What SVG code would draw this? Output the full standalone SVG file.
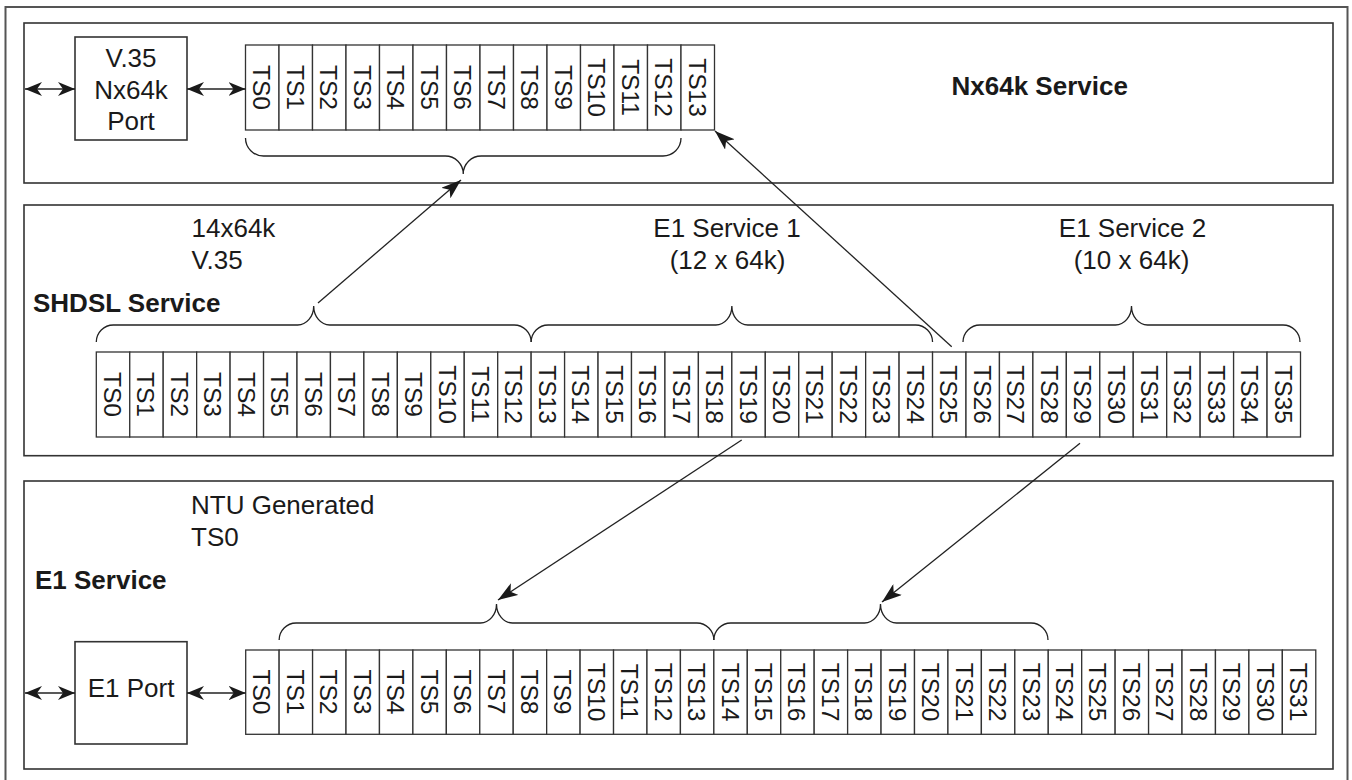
<svg xmlns="http://www.w3.org/2000/svg" width="1352" height="780" viewBox="0 0 1352 780">
<style>
.frame{fill:none;stroke:#555;stroke-width:2}
.panel{fill:none;stroke:#333;stroke-width:1.6}
.box{fill:#fff;stroke:#333;stroke-width:1.6}
.cell{fill:#fff;stroke:#333;stroke-width:1.3}
.ts{font-family:"Liberation Sans",Arial,sans-serif;font-size:24.5px;fill:#1a1a1a;text-anchor:middle}
.lbl{font-family:"Liberation Sans",Arial,sans-serif;font-size:26px;fill:#1a1a1a}
.mid{text-anchor:middle}
.bold{font-weight:bold}
.brace{fill:none;stroke:#222;stroke-width:1.3}
.conn{fill:none;stroke:#222;stroke-width:1.3}
.dbl{fill:none;stroke:#222;stroke-width:1.3;marker-start:url(#ah);marker-end:url(#ah)}
.one{marker-end:url(#ah2)}
</style>
<defs>
<marker id="ah" viewBox="0 0 17 14" refX="17" refY="7" markerWidth="17" markerHeight="14" markerUnits="userSpaceOnUse" orient="auto-start-reverse">
<path d="M0,0 L17,7 L0,14 L5,7 z" fill="#1a1a1a"/>
</marker>
<marker id="ah2" viewBox="0 0 20 14" refX="20" refY="7" markerWidth="20" markerHeight="14" markerUnits="userSpaceOnUse" orient="auto">
<path d="M0,0 L20,7 L0,14 L5,7 z" fill="#1a1a1a"/>
</marker>
</defs>
<rect width="1352" height="780" fill="#fff"/>
<rect class="frame" x="5.5" y="7" width="1342" height="800"/>

<g id="panel-nx64k">
<rect class="panel" x="24" y="23" width="1309" height="160"/>
<text class="lbl bold" x="951.5" y="95">Nx64k Service</text>
</g>
<g id="panel-shdsl">
<rect class="panel" x="24" y="205" width="1309" height="250.7"/>
<text class="lbl bold" x="33" y="312">SHDSL Service</text>
<text class="lbl" x="191.5" y="237">14x64k</text>
<text class="lbl" x="191.5" y="269">V.35</text>
<text class="lbl mid" x="727" y="237">E1 Service 1</text>
<text class="lbl mid" x="727.5" y="269">(12 x 64k)</text>
<text class="lbl mid" x="1132.5" y="237">E1 Service 2</text>
<text class="lbl mid" x="1131.5" y="269">(10 x 64k)</text>
</g>
<g id="panel-e1">
<rect class="panel" x="24" y="481" width="1309" height="288"/>
<text class="lbl bold" x="35" y="589">E1 Service</text>
<text class="lbl" x="191" y="514">NTU Generated</text>
<text class="lbl" x="191" y="546">TS0</text>
</g>

<g id="v35-port">
<rect class="box" x="75" y="37" width="112" height="103"/>
<text class="lbl mid" x="131" y="67">V.35</text>
<text class="lbl mid" x="131" y="99">Nx64k</text>
<text class="lbl mid" x="131" y="129.5">Port</text>
</g>
<g id="e1-port">
<rect class="box" x="75" y="641.7" width="112" height="102.3"/>
<text class="lbl mid" x="131" y="697">E1 Port</text>
</g>

<g id="nx64k-timeslots">
<g id="n-ts0"><rect class="cell" x="245.5" y="45" width="33.5" height="85"/><text class="ts" transform="translate(253.25,87.5) rotate(90)">TS0</text></g>
<g id="n-ts1"><rect class="cell" x="279" y="45" width="33.5" height="85"/><text class="ts" transform="translate(286.75,87.5) rotate(90)">TS1</text></g>
<g id="n-ts2"><rect class="cell" x="312.5" y="45" width="33.5" height="85"/><text class="ts" transform="translate(320.25,87.5) rotate(90)">TS2</text></g>
<g id="n-ts3"><rect class="cell" x="346" y="45" width="33.5" height="85"/><text class="ts" transform="translate(353.75,87.5) rotate(90)">TS3</text></g>
<g id="n-ts4"><rect class="cell" x="379.5" y="45" width="33.5" height="85"/><text class="ts" transform="translate(387.25,87.5) rotate(90)">TS4</text></g>
<g id="n-ts5"><rect class="cell" x="413" y="45" width="33.5" height="85"/><text class="ts" transform="translate(420.75,87.5) rotate(90)">TS5</text></g>
<g id="n-ts6"><rect class="cell" x="446.5" y="45" width="33.5" height="85"/><text class="ts" transform="translate(454.25,87.5) rotate(90)">TS6</text></g>
<g id="n-ts7"><rect class="cell" x="480" y="45" width="33.5" height="85"/><text class="ts" transform="translate(487.75,87.5) rotate(90)">TS7</text></g>
<g id="n-ts8"><rect class="cell" x="513.5" y="45" width="33.5" height="85"/><text class="ts" transform="translate(521.25,87.5) rotate(90)">TS8</text></g>
<g id="n-ts9"><rect class="cell" x="547" y="45" width="33.5" height="85"/><text class="ts" transform="translate(554.75,87.5) rotate(90)">TS9</text></g>
<g id="n-ts10"><rect class="cell" x="580.5" y="45" width="33.5" height="85"/><text class="ts" transform="translate(588.25,87.5) rotate(90)">TS10</text></g>
<g id="n-ts11"><rect class="cell" x="614" y="45" width="33.5" height="85"/><text class="ts" transform="translate(621.75,87.5) rotate(90)">TS11</text></g>
<g id="n-ts12"><rect class="cell" x="647.5" y="45" width="33.5" height="85"/><text class="ts" transform="translate(655.25,87.5) rotate(90)">TS12</text></g>
<g id="n-ts13"><rect class="cell" x="681" y="45" width="33.5" height="85"/><text class="ts" transform="translate(688.75,87.5) rotate(90)">TS13</text></g>
</g>

<g id="shdsl-timeslots">
<g id="s-ts0"><rect class="cell" x="96.3" y="352" width="33.45" height="85"/><text class="ts" transform="translate(104.02,394.5) rotate(90)">TS0</text></g>
<g id="s-ts1"><rect class="cell" x="129.75" y="352" width="33.45" height="85"/><text class="ts" transform="translate(137.47,394.5) rotate(90)">TS1</text></g>
<g id="s-ts2"><rect class="cell" x="163.2" y="352" width="33.45" height="85"/><text class="ts" transform="translate(170.92,394.5) rotate(90)">TS2</text></g>
<g id="s-ts3"><rect class="cell" x="196.65" y="352" width="33.45" height="85"/><text class="ts" transform="translate(204.37,394.5) rotate(90)">TS3</text></g>
<g id="s-ts4"><rect class="cell" x="230.1" y="352" width="33.45" height="85"/><text class="ts" transform="translate(237.82,394.5) rotate(90)">TS4</text></g>
<g id="s-ts5"><rect class="cell" x="263.55" y="352" width="33.45" height="85"/><text class="ts" transform="translate(271.27,394.5) rotate(90)">TS5</text></g>
<g id="s-ts6"><rect class="cell" x="297" y="352" width="33.45" height="85"/><text class="ts" transform="translate(304.72,394.5) rotate(90)">TS6</text></g>
<g id="s-ts7"><rect class="cell" x="330.45" y="352" width="33.45" height="85"/><text class="ts" transform="translate(338.17,394.5) rotate(90)">TS7</text></g>
<g id="s-ts8"><rect class="cell" x="363.9" y="352" width="33.45" height="85"/><text class="ts" transform="translate(371.62,394.5) rotate(90)">TS8</text></g>
<g id="s-ts9"><rect class="cell" x="397.35" y="352" width="33.45" height="85"/><text class="ts" transform="translate(405.07,394.5) rotate(90)">TS9</text></g>
<g id="s-ts10"><rect class="cell" x="430.8" y="352" width="33.45" height="85"/><text class="ts" transform="translate(438.52,394.5) rotate(90)">TS10</text></g>
<g id="s-ts11"><rect class="cell" x="464.25" y="352" width="33.45" height="85"/><text class="ts" transform="translate(471.97,394.5) rotate(90)">TS11</text></g>
<g id="s-ts12"><rect class="cell" x="497.7" y="352" width="33.45" height="85"/><text class="ts" transform="translate(505.42,394.5) rotate(90)">TS12</text></g>
<g id="s-ts13"><rect class="cell" x="531.15" y="352" width="33.45" height="85"/><text class="ts" transform="translate(538.87,394.5) rotate(90)">TS13</text></g>
<g id="s-ts14"><rect class="cell" x="564.6" y="352" width="33.45" height="85"/><text class="ts" transform="translate(572.32,394.5) rotate(90)">TS14</text></g>
<g id="s-ts15"><rect class="cell" x="598.05" y="352" width="33.45" height="85"/><text class="ts" transform="translate(605.77,394.5) rotate(90)">TS15</text></g>
<g id="s-ts16"><rect class="cell" x="631.5" y="352" width="33.45" height="85"/><text class="ts" transform="translate(639.22,394.5) rotate(90)">TS16</text></g>
<g id="s-ts17"><rect class="cell" x="664.95" y="352" width="33.45" height="85"/><text class="ts" transform="translate(672.67,394.5) rotate(90)">TS17</text></g>
<g id="s-ts18"><rect class="cell" x="698.4" y="352" width="33.45" height="85"/><text class="ts" transform="translate(706.12,394.5) rotate(90)">TS18</text></g>
<g id="s-ts19"><rect class="cell" x="731.85" y="352" width="33.45" height="85"/><text class="ts" transform="translate(739.57,394.5) rotate(90)">TS19</text></g>
<g id="s-ts20"><rect class="cell" x="765.3" y="352" width="33.45" height="85"/><text class="ts" transform="translate(773.02,394.5) rotate(90)">TS20</text></g>
<g id="s-ts21"><rect class="cell" x="798.75" y="352" width="33.45" height="85"/><text class="ts" transform="translate(806.47,394.5) rotate(90)">TS21</text></g>
<g id="s-ts22"><rect class="cell" x="832.2" y="352" width="33.45" height="85"/><text class="ts" transform="translate(839.92,394.5) rotate(90)">TS22</text></g>
<g id="s-ts23"><rect class="cell" x="865.65" y="352" width="33.45" height="85"/><text class="ts" transform="translate(873.37,394.5) rotate(90)">TS23</text></g>
<g id="s-ts24"><rect class="cell" x="899.1" y="352" width="33.45" height="85"/><text class="ts" transform="translate(906.82,394.5) rotate(90)">TS24</text></g>
<g id="s-ts25"><rect class="cell" x="932.55" y="352" width="33.45" height="85"/><text class="ts" transform="translate(940.27,394.5) rotate(90)">TS25</text></g>
<g id="s-ts26"><rect class="cell" x="966" y="352" width="33.45" height="85"/><text class="ts" transform="translate(973.72,394.5) rotate(90)">TS26</text></g>
<g id="s-ts27"><rect class="cell" x="999.45" y="352" width="33.45" height="85"/><text class="ts" transform="translate(1007.17,394.5) rotate(90)">TS27</text></g>
<g id="s-ts28"><rect class="cell" x="1032.9" y="352" width="33.45" height="85"/><text class="ts" transform="translate(1040.62,394.5) rotate(90)">TS28</text></g>
<g id="s-ts29"><rect class="cell" x="1066.35" y="352" width="33.45" height="85"/><text class="ts" transform="translate(1074.07,394.5) rotate(90)">TS29</text></g>
<g id="s-ts30"><rect class="cell" x="1099.8" y="352" width="33.45" height="85"/><text class="ts" transform="translate(1107.52,394.5) rotate(90)">TS30</text></g>
<g id="s-ts31"><rect class="cell" x="1133.25" y="352" width="33.45" height="85"/><text class="ts" transform="translate(1140.97,394.5) rotate(90)">TS31</text></g>
<g id="s-ts32"><rect class="cell" x="1166.7" y="352" width="33.45" height="85"/><text class="ts" transform="translate(1174.42,394.5) rotate(90)">TS32</text></g>
<g id="s-ts33"><rect class="cell" x="1200.15" y="352" width="33.45" height="85"/><text class="ts" transform="translate(1207.87,394.5) rotate(90)">TS33</text></g>
<g id="s-ts34"><rect class="cell" x="1233.6" y="352" width="33.45" height="85"/><text class="ts" transform="translate(1241.32,394.5) rotate(90)">TS34</text></g>
<g id="s-ts35"><rect class="cell" x="1267.05" y="352" width="33.45" height="85"/><text class="ts" transform="translate(1274.77,394.5) rotate(90)">TS35</text></g>
</g>

<g id="e1-timeslots">
<g id="e-ts0"><rect class="cell" x="245.7" y="650" width="33.44" height="84.3"/><text class="ts" transform="translate(253.42,692) rotate(90)">TS0</text></g>
<g id="e-ts1"><rect class="cell" x="279.14" y="650" width="33.44" height="84.3"/><text class="ts" transform="translate(286.86,692) rotate(90)">TS1</text></g>
<g id="e-ts2"><rect class="cell" x="312.58" y="650" width="33.44" height="84.3"/><text class="ts" transform="translate(320.3,692) rotate(90)">TS2</text></g>
<g id="e-ts3"><rect class="cell" x="346.02" y="650" width="33.44" height="84.3"/><text class="ts" transform="translate(353.74,692) rotate(90)">TS3</text></g>
<g id="e-ts4"><rect class="cell" x="379.46" y="650" width="33.44" height="84.3"/><text class="ts" transform="translate(387.18,692) rotate(90)">TS4</text></g>
<g id="e-ts5"><rect class="cell" x="412.9" y="650" width="33.44" height="84.3"/><text class="ts" transform="translate(420.62,692) rotate(90)">TS5</text></g>
<g id="e-ts6"><rect class="cell" x="446.34" y="650" width="33.44" height="84.3"/><text class="ts" transform="translate(454.06,692) rotate(90)">TS6</text></g>
<g id="e-ts7"><rect class="cell" x="479.78" y="650" width="33.44" height="84.3"/><text class="ts" transform="translate(487.5,692) rotate(90)">TS7</text></g>
<g id="e-ts8"><rect class="cell" x="513.22" y="650" width="33.44" height="84.3"/><text class="ts" transform="translate(520.94,692) rotate(90)">TS8</text></g>
<g id="e-ts9"><rect class="cell" x="546.66" y="650" width="33.44" height="84.3"/><text class="ts" transform="translate(554.38,692) rotate(90)">TS9</text></g>
<g id="e-ts10"><rect class="cell" x="580.1" y="650" width="33.44" height="84.3"/><text class="ts" transform="translate(587.82,692) rotate(90)">TS10</text></g>
<g id="e-ts11"><rect class="cell" x="613.54" y="650" width="33.44" height="84.3"/><text class="ts" transform="translate(621.26,692) rotate(90)">TS11</text></g>
<g id="e-ts12"><rect class="cell" x="646.98" y="650" width="33.44" height="84.3"/><text class="ts" transform="translate(654.7,692) rotate(90)">TS12</text></g>
<g id="e-ts13"><rect class="cell" x="680.42" y="650" width="33.44" height="84.3"/><text class="ts" transform="translate(688.14,692) rotate(90)">TS13</text></g>
<g id="e-ts14"><rect class="cell" x="713.86" y="650" width="33.44" height="84.3"/><text class="ts" transform="translate(721.58,692) rotate(90)">TS14</text></g>
<g id="e-ts15"><rect class="cell" x="747.3" y="650" width="33.44" height="84.3"/><text class="ts" transform="translate(755.02,692) rotate(90)">TS15</text></g>
<g id="e-ts16"><rect class="cell" x="780.74" y="650" width="33.44" height="84.3"/><text class="ts" transform="translate(788.46,692) rotate(90)">TS16</text></g>
<g id="e-ts17"><rect class="cell" x="814.18" y="650" width="33.44" height="84.3"/><text class="ts" transform="translate(821.9,692) rotate(90)">TS17</text></g>
<g id="e-ts18"><rect class="cell" x="847.62" y="650" width="33.44" height="84.3"/><text class="ts" transform="translate(855.34,692) rotate(90)">TS18</text></g>
<g id="e-ts19"><rect class="cell" x="881.06" y="650" width="33.44" height="84.3"/><text class="ts" transform="translate(888.78,692) rotate(90)">TS19</text></g>
<g id="e-ts20"><rect class="cell" x="914.5" y="650" width="33.44" height="84.3"/><text class="ts" transform="translate(922.22,692) rotate(90)">TS20</text></g>
<g id="e-ts21"><rect class="cell" x="947.94" y="650" width="33.44" height="84.3"/><text class="ts" transform="translate(955.66,692) rotate(90)">TS21</text></g>
<g id="e-ts22"><rect class="cell" x="981.38" y="650" width="33.44" height="84.3"/><text class="ts" transform="translate(989.1,692) rotate(90)">TS22</text></g>
<g id="e-ts23"><rect class="cell" x="1014.82" y="650" width="33.44" height="84.3"/><text class="ts" transform="translate(1022.54,692) rotate(90)">TS23</text></g>
<g id="e-ts24"><rect class="cell" x="1048.26" y="650" width="33.44" height="84.3"/><text class="ts" transform="translate(1055.98,692) rotate(90)">TS24</text></g>
<g id="e-ts25"><rect class="cell" x="1081.7" y="650" width="33.44" height="84.3"/><text class="ts" transform="translate(1089.42,692) rotate(90)">TS25</text></g>
<g id="e-ts26"><rect class="cell" x="1115.14" y="650" width="33.44" height="84.3"/><text class="ts" transform="translate(1122.86,692) rotate(90)">TS26</text></g>
<g id="e-ts27"><rect class="cell" x="1148.58" y="650" width="33.44" height="84.3"/><text class="ts" transform="translate(1156.3,692) rotate(90)">TS27</text></g>
<g id="e-ts28"><rect class="cell" x="1182.02" y="650" width="33.44" height="84.3"/><text class="ts" transform="translate(1189.74,692) rotate(90)">TS28</text></g>
<g id="e-ts29"><rect class="cell" x="1215.46" y="650" width="33.44" height="84.3"/><text class="ts" transform="translate(1223.18,692) rotate(90)">TS29</text></g>
<g id="e-ts30"><rect class="cell" x="1248.9" y="650" width="33.44" height="84.3"/><text class="ts" transform="translate(1256.62,692) rotate(90)">TS30</text></g>
<g id="e-ts31"><rect class="cell" x="1282.34" y="650" width="33.44" height="84.3"/><text class="ts" transform="translate(1290.06,692) rotate(90)">TS31</text></g>
</g>

<g id="braces">
<path class="brace" d="M245.5,138 A18,18 0 0 0 263.5,156 L445.25,156 A18,18 0 0 1 463.25,174 A18,18 0 0 1 481.25,156 L663,156 A18,18 0 0 0 681,138"/>
<path class="brace" d="M96.3,342 A17,17 0 0 1 113.3,325 L297.7,325 A16,19 0 0 0 313.7,306 A16,19 0 0 0 329.7,325 L514.15,325 A17,17 0 0 1 531.15,342"/>
<path class="brace" d="M531.15,342 A17,17 0 0 1 548.15,325 L715.85,325 A16,19 0 0 0 731.85,306 A16,19 0 0 0 747.85,325 L915.55,325 A17,17 0 0 1 932.55,342"/>
<path class="brace" d="M963,342 A17,17 0 0 1 980,325 L1115.5,325 A16,19 0 0 0 1131.5,306 A16,19 0 0 0 1147.5,325 L1283,325 A17,17 0 0 1 1300,342"/>
<path class="brace" d="M279.14,640 A17,17 0 0 1 296.14,623 L480.5,623 A16,19 0 0 0 496.5,604 A16,19 0 0 0 512.5,623 L696.86,623 A17,17 0 0 1 713.86,640"/>
<path class="brace" d="M713.86,640 A17,17 0 0 1 730.86,623 L864.5,623 A16,19 0 0 0 880.5,604 A16,19 0 0 0 896.5,623 L1031,623 A17,17 0 0 1 1048,640"/>
</g>

<g id="connectors">
<path class="dbl" d="M25,89 L75,89"/>
<path class="dbl" d="M187,89 L245.5,89"/>
<path class="dbl" d="M25,693 L75,693"/>
<path class="dbl" d="M187,693 L245.7,693"/>
<path class="conn one" d="M318,303 L461,180"/>
<path class="conn one" d="M951.7,346.7 L715,131"/>
<path class="conn one" d="M741.7,440 L498,600"/>
<path class="conn one" d="M1080,443.3 L882,602"/>
</g>
</svg>
